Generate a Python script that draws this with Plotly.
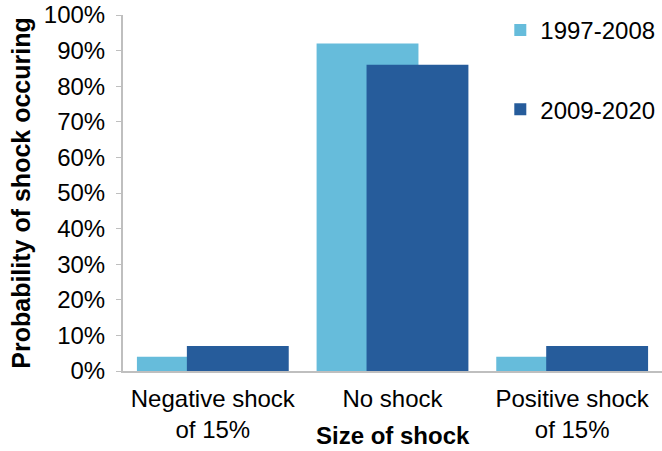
import plotly.graph_objects as go

categories = ["Negative shock<br>of 15%", "No shock", "Positive shock<br>of 15%"]
series_names = ["1997-2008", "2009-2020"]
values_1997_2008 = [0.04, 0.92, 0.04]
values_2009_2020 = [0.07, 0.86, 0.07]
y_ticks = [0, 0.1, 0.2, 0.3, 0.4, 0.5, 0.6, 0.7, 0.8, 0.9, 1.0]

light = "#66BCDB"
dark = "#265C9B"
bw = 0.567
shift = 0.139

fig = go.Figure()
fig.add_trace(go.Bar(x=categories, y=values_1997_2008, name=series_names[0],
                     marker=dict(color=light, line=dict(width=0)),
                     width=bw, offset=-bw/2 - shift, legendgroup="a"))
fig.add_trace(go.Bar(x=categories, y=values_2009_2020, name=series_names[1],
                     marker=dict(color=dark, line=dict(width=0)),
                     width=bw, offset=-bw/2 + shift, legendgroup="b"))

font = "Liberation Sans, Arial, sans-serif"
fig.update_layout(
    width=662, height=451,
    margin=dict(l=123, r=0, t=15, b=80, autoexpand=False),
    plot_bgcolor="white", paper_bgcolor="white",
    barmode="overlay",
    font=dict(family=font, size=24, color="black"),
    showlegend=True,
    legend=dict(x=0.70, y=1.02, xanchor="left", yanchor="top",
                font=dict(size=24), tracegroupgap=45,
                itemwidth=30, bgcolor="rgba(0,0,0,0)"),
    xaxis=dict(range=[-0.5, 2.5], showline=True, linecolor="#BFBFBF", linewidth=2,
               ticks="", showgrid=False, tickfont=dict(size=24),
               automargin=False, ticklabelstandoff=5, ticklabeloverflow="allow"),
    yaxis=dict(range=[0, 1], tickvals=y_ticks, tickformat=".0%",
               showline=True, linecolor="#BFBFBF", linewidth=2,
               ticks="outside", ticklen=5, tickcolor="#BFBFBF",
               showgrid=False, zeroline=False, ticklabelstandoff=6,
               automargin=False, tickfont=dict(size=24), ticklabeloverflow="allow",
               title=dict(text="<b>Probability of shock occuring</b>",
                          font=dict(size=25), standoff=6)),
)
fig.add_annotation(text="<b>Size of shock</b>", x=0.5, y=-80/356, xref="paper", yref="paper",
                   xanchor="center", yanchor="bottom", showarrow=False,
                   font=dict(size=24, family=font))
fig.write_html("out.html", config={"displayModeBar": False},
               post_script="document.body.style.margin='0px';document.body.style.overflow='hidden';")
